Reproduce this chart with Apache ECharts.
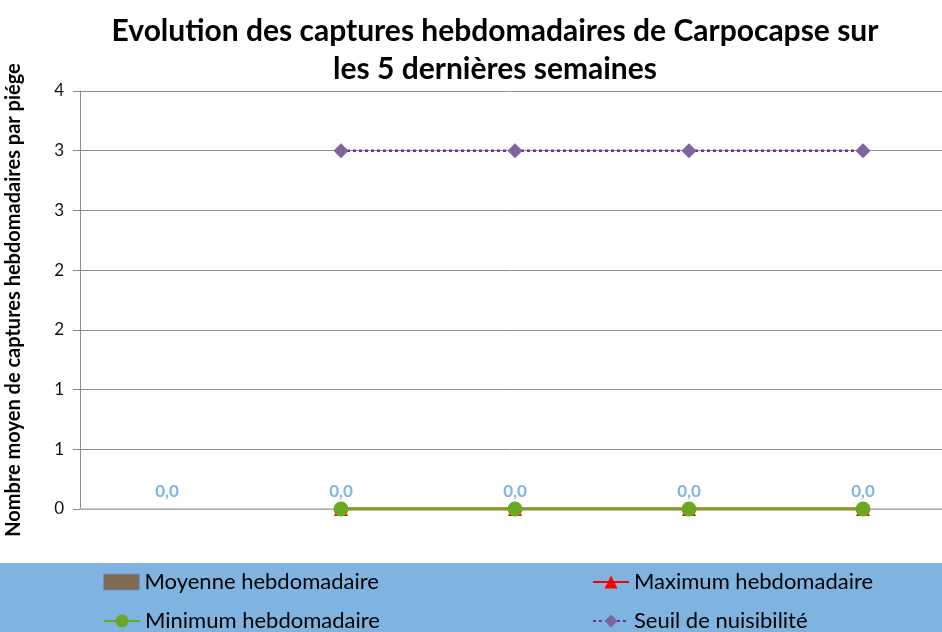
<!DOCTYPE html>
<html>
<head>
<meta charset="utf-8">
<script src="https://cdn.jsdelivr.net/npm/echarts@6/dist/echarts.min.js"></script>
<style>
  html, body { margin: 0; padding: 0; background: #fff; }
  #chart { width: 942px; height: 632px; }
</style>
</head>
<body>
<div id="chart"></div>
<script>
// Weeks (category slots, unlabeled on the axis)
const weeks = ['S1', 'S2', 'S3', 'S4', 'S5'];
// Weekly catches per trap
const moyenne = [0, 0, 0, 0, 0];
const maximum = [null, 0, 0, 0, 0];
const minimum = [null, 0, 0, 0, 0];
const seuil = [null, 3, 3, 3, 3];
// Value axis tick labels (whole numbers shown for half-step ticks)
const yTickLabels = ['0', '1', '1', '2', '2', '3', '3', '4'];

const FONT = 'Lato';
const chart = echarts.init(document.getElementById('chart'), null, { renderer: 'canvas' });

// One legend block per entry, laid out on two rows and two columns
function legendAt(left, top, item) {
  return {
    left: left, top: top,
    padding: 0,
    itemWidth: 36, itemHeight: 16,
    textStyle: { fontFamily: FONT, fontSize: 22, color: '#000' },
    data: [item]
  };
}

chart.setOption({
  animation: false,
  textStyle: { fontFamily: FONT },
  title: {
    text: 'Evolution des captures hebdomadaires de Carpocapse sur\nles 5 dernières semaines',
    left: 490,
    top: 7,
    textAlign: 'center',
    textStyle: { fontFamily: FONT, fontWeight: 'bold', fontSize: 30, lineHeight: 38, color: '#000' }
  },
  graphic: [{
    type: 'rect',
    left: 0, top: 563,
    shape: { width: 942, height: 69 },
    style: { fill: '#7fb4e1' },
    z: -1
  }],
  legend: [
    legendAt(103, 571, { name: 'Moyenne hebdomadaire', icon: 'rect', itemStyle: { borderColor: '#6f8fdc', borderWidth: 1 } }),
    legendAt(103, 610, 'Minimum hebdomadaire'),
    legendAt(592, 571, 'Maximum hebdomadaire'),
    legendAt(592, 610, 'Seuil de nuisibilité')
  ],
  grid: { left: 80, top: 91, width: 870, bottom: 123, containLabel: false, outerBoundsMode: 'none' },
  xAxis: {
    type: 'category',
    data: weeks,
    axisLine: { lineStyle: { color: '#b8b8b8', width: 1.5 } },
    axisTick: { show: false },
    axisLabel: { show: false }
  },
  yAxis: {
    type: 'value',
    min: 0, max: 3.5, interval: 0.5,
    name: 'Nombre moyen de captures hebdomadaires par piége',
    nameLocation: 'middle',
    nameGap: 56,
    nameRotate: 90,
    nameTextStyle: { fontFamily: FONT, fontWeight: 'bold', fontSize: 20, color: '#000' },
    axisLine: { show: true, lineStyle: { color: '#8c8c8c' } },
    axisTick: { show: true, length: 7, lineStyle: { color: '#8c8c8c' } },
    axisLabel: {
      margin: 16,
      fontSize: 17, color: '#111', fontFamily: FONT,
      formatter: (v, i) => yTickLabels[i]
    },
    splitLine: { lineStyle: { color: '#8c8c8c' } }
  },
  series: [{
    name: 'Moyenne hebdomadaire',
    type: 'bar',
    data: moyenne,
    barWidth: '50%',
    itemStyle: { color: '#7f6b52', borderWidth: 0 },
    label: {
      show: true, position: 'top', distance: 9,
      color: '#7eb6e6', fontWeight: 'bold', fontSize: 17, fontFamily: FONT,
      formatter: p => p.value.toFixed(1).replace('.', ',')
    },
    z: 1
  }, {
    name: 'Maximum hebdomadaire',
    type: 'line',
    data: maximum,
    symbol: 'triangle', symbolSize: 14,
    lineStyle: { color: '#ff0000', width: 3 },
    itemStyle: { color: '#ff0000' },
    z: 2
  }, {
    name: 'Minimum hebdomadaire',
    type: 'line',
    data: minimum,
    symbol: 'circle', symbolSize: 15,
    lineStyle: { color: '#6aa823', width: 3 },
    itemStyle: { color: '#6aa823' },
    z: 3
  }, {
    name: 'Seuil de nuisibilité',
    type: 'line',
    data: seuil,
    symbol: 'diamond', symbolSize: 15,
    lineStyle: { color: '#7030a0', width: 2.5, type: [3, 3] },
    itemStyle: { color: '#8064a2' },
    z: 4
  }]
});
</script>
</body>
</html>
